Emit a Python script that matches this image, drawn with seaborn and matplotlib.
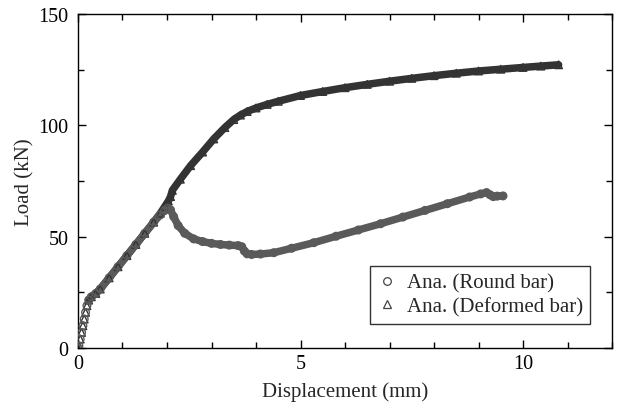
import matplotlib
matplotlib.use("Agg")
import matplotlib.pyplot as plt
from matplotlib.lines import Line2D
from matplotlib.ticker import MultipleLocator
import seaborn as sns
import pandas as pd

sns.set_style("ticks")
plt.rcParams["font.family"] = ["Liberation Serif", "DejaVu Serif"]

# ---- data ----
round_x = [0.00, 0.02, 0.05, 0.08, 0.11, 0.14, 0.17, 0.20, 0.24,
           0.30, 0.40, 0.50, 0.70, 0.90, 1.10, 1.30, 1.50, 1.70, 1.85, 1.95, 2.02,
           2.08, 2.15, 2.25, 2.40, 2.60, 2.80, 3.00, 3.20, 3.40, 3.60, 3.68, 3.74,
           3.80, 3.90, 4.10, 4.40, 4.80, 5.30, 5.80, 6.30, 6.80, 7.30, 7.80, 8.30,
           8.80, 9.05, 9.18, 9.26, 9.33, 9.42, 9.55]
round_y = [0.0, 1.0, 4.0, 7.0, 10.0, 13.0, 16.0, 19.0, 21.5,
           23.0, 24.5, 26.5, 31.5, 36.5, 41.5, 46.5, 51.5, 56.5, 59.8, 61.8, 62.8,
           62.0, 59.0, 55.0, 51.5, 49.0, 47.8, 47.0, 46.5, 46.2, 46.0, 45.5, 43.5,
           42.3, 42.0, 42.2, 42.8, 44.8, 47.3, 50.2, 53.0, 55.8, 58.8, 61.8, 64.8,
           67.8, 69.2, 69.8, 68.8, 68.0, 68.2, 68.3]

deformed_x = [0.00, 0.02, 0.05, 0.08, 0.11, 0.14, 0.17, 0.20, 0.24,
              0.30, 0.40, 0.50, 0.70, 0.90, 1.10, 1.30, 1.50, 1.70, 1.85, 1.95, 2.03,
              2.08, 2.12, 2.30, 2.53, 2.80, 3.05, 3.30, 3.50, 3.65, 3.80, 4.00, 4.25,
              4.50, 5.00, 5.50, 6.00, 6.50, 7.00, 7.50, 8.00, 8.50, 9.00, 9.50, 10.00,
              10.40, 10.80]
deformed_y = [0.0, 1.0, 4.0, 7.0, 10.0, 13.0, 16.0, 19.0, 21.5,
              23.0, 24.5, 26.5, 31.5, 36.5, 41.5, 46.5, 51.5, 56.5, 60.5, 63.5, 66.0,
              68.0, 70.8, 75.8, 81.9, 88.0, 93.9, 99.0, 102.6, 104.6, 106.2, 107.8, 109.4,
              110.8, 113.4, 115.2, 116.9, 118.4, 119.8, 121.1, 122.3, 123.4, 124.4, 125.2, 126.0,
              126.6, 127.2]

labels = ["Ana. (Round bar)", "Ana. (Deformed bar)"]
x_ticks = [0, 5, 10]
y_ticks = [0, 50, 100, 150]

c_round = "#5a5a5a"
c_def = "#333333"

df_r = pd.DataFrame({"x": round_x, "y": round_y})
df_d = pd.DataFrame({"x": deformed_x, "y": deformed_y})
band_start = 8

fig = plt.figure(figsize=(6.17, 4.10), dpi=100)
ax = fig.add_axes([78 / 617, 1 - 349 / 410, 534 / 617, 334 / 410])

# deformed bar
sns.lineplot(data=df_d.iloc[band_start:], x="x", y="y", sort=False, estimator=None,
             color=c_def, lw=5.4, ax=ax, legend=False, solid_capstyle="round")
sns.scatterplot(data=df_d, x="x", y="y", marker="^", s=30, facecolor="none",
                edgecolor=c_def, linewidth=1.0, ax=ax, legend=False, zorder=3)
# round bar
sns.lineplot(data=df_r.iloc[band_start:], x="x", y="y", sort=False, estimator=None,
             color=c_round, lw=5.4, ax=ax, legend=False, solid_capstyle="round")
sns.scatterplot(data=df_r, x="x", y="y", marker="o", s=30, facecolor="none",
                edgecolor=c_round, linewidth=1.0, ax=ax, legend=False, zorder=3)

ax.set_xlim(0, 12)
ax.set_ylim(0, 150)
ax.set_xticks(x_ticks)
ax.set_yticks(y_ticks)
ax.xaxis.set_minor_locator(MultipleLocator(1))
ax.yaxis.set_minor_locator(MultipleLocator(25))
ax.tick_params(which="both", direction="in", top=True, right=True, colors="black",
               labelsize=14.5, width=1.0)
ax.tick_params(which="major", length=6)
ax.tick_params(which="minor", length=4)
ax.tick_params(axis="y", pad=7)
ax.tick_params(axis="x", pad=4)
for s in ax.spines.values():
    s.set_visible(True)
    s.set_color("black")
    s.set_linewidth(1.0)

ax.set_xlabel("Displacement (mm)", fontsize=15, labelpad=6)
ax.set_ylabel("Load (kN)", fontsize=15, labelpad=3)

handles = [
    Line2D([], [], ls="", marker="o", ms=5.5, mfc="white", mec="#444444", mew=0.9),
    Line2D([], [], ls="", marker="^", ms=5.5, mfc="white", mec="#444444", mew=0.9),
]
leg = ax.legend(handles, labels, loc="lower right", bbox_to_anchor=(0.959, 0.072),
                borderaxespad=0, fontsize=15, frameon=True, fancybox=False,
                edgecolor="black", handlelength=0.9, handletextpad=0.5,
                borderpad=0.35, labelspacing=0.2)
leg.get_frame().set_linewidth(1.0)

fig.savefig("out.png", dpi=100)
